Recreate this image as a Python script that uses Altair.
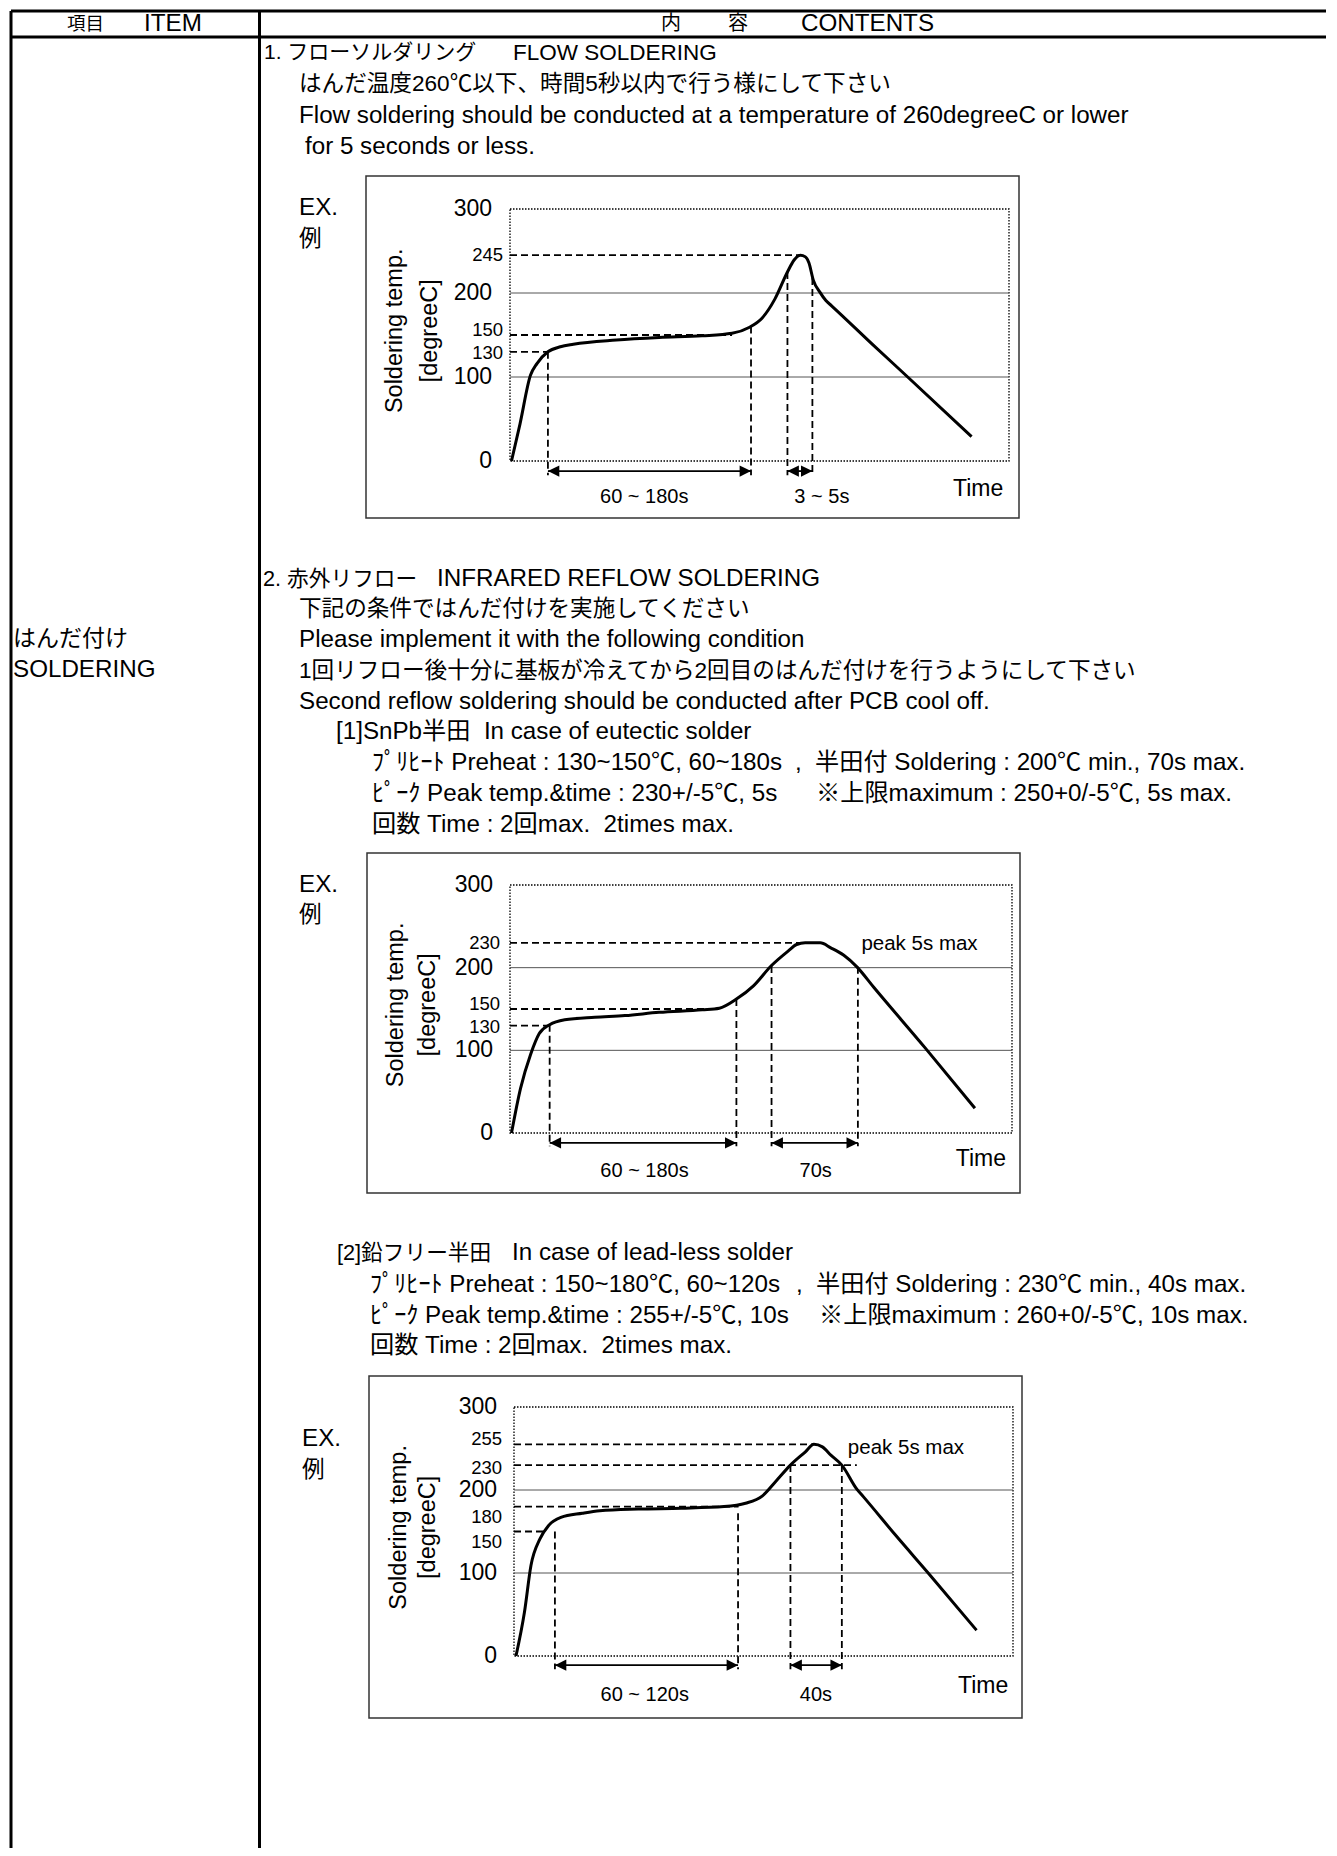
import altair as alt
import pandas as pd

FONT = "Liberation Sans, Noto Sans CJK JP"
W = 1321
LAT = 24.2   # latin-text size
JP = 22.6    # japanese-only line size

# ---------------- text content ----------------
HEADER_TEXT = ["項目", "ITEM", "内", "容", "CONTENTS"]
ITEM_TEXT = ["はんだ付け", "SOLDERING"]
EX_TEXT = ["EX.", "例"]
SEC1_TEXT = [
    "1. フローソルダリング",
    "FLOW SOLDERING",
    "はんだ温度260℃以下、時間5秒以内で行う様にして下さい",
    "Flow soldering should be conducted at a temperature of 260degreeC or lower",
    "for 5 seconds or less.",
]
SEC2_TEXT = [
    "2. 赤外リフロー",
    "INFRARED REFLOW SOLDERING",
    "下記の条件ではんだ付けを実施してください",
    "Please implement it with the following condition",
    "1回リフロー後十分に基板が冷えてから2回目のはんだ付けを行うようにして下さい",
    "Second reflow soldering should be conducted after PCB cool off.",
    "[1]SnPb半田\u00a0 In case of eutectic solder",
    "ﾌﾟﾘﾋｰﾄ Preheat : 130~150℃, 60~180s",
    ",",
    "半田付 Soldering : 200℃ min., 70s max.",
    "ﾋﾟｰｸ Peak temp.&time : 230+/-5℃, 5s",
    "※上限maximum : 250+0/-5℃, 5s max.",
    "回数 Time : 2回max.\u00a0 2times max.",
]
SEC3_TEXT = [
    "[2]鉛フリー半田",
    "In case of lead-less solder",
    "ﾌﾟﾘﾋｰﾄ Preheat : 150~180℃, 60~120s",
    ",",
    "半田付 Soldering : 230℃ min., 40s max.",
    "ﾋﾟｰｸ Peak temp.&time : 255+/-5℃, 10s",
    "※上限maximum : 260+0/-5℃, 10s max.",
    "回数 Time : 2回max.\u00a0 2times max.",
]

# ---------------- chart data ----------------
X_DOMAIN = [0, 100]          # time, % of the profile duration
Y_DOMAIN = [0, 300]          # degreeC
GRID_TEMPS = [100, 200]
BIG_TICKS = [0, 100, 200, 300]
Y_TITLE = ["Soldering temp.", "[degreeC]"]
X_TITLE = "Time"
PEAK_NOTE = "peak 5s max"

# 1. flow soldering
P1_TIME = [0.3, 2.0, 4.1, 5.4, 7.6, 10.1, 12.7, 21.3, 29.9, 38.5, 44.5, 47.9, 50.5,
           53.1, 55.6, 56.9, 58.2, 59.2, 59.9, 60.8, 62.1, 63.3, 64.5, 72.8, 79.7, 92.5]
P1_TEMP = [0, 44, 102, 116, 130, 136, 139, 144, 147, 149, 152, 159, 170,
           193, 225, 239, 245, 243, 236, 215, 201, 191, 184.5, 138, 100, 29]
P1_SMALL_TICKS = [245, 150, 130]
P1_H_TEMP = [245, 150, 130]
P1_H_END = [58.2, 44.5, 7.6]
P1_V_TIME = [7.6, 48.3, 55.6, 60.6]
P1_V_TOP = [130, 160, 225, 218]
P1_DIM_START = [7.6, 55.6]
P1_DIM_END = [48.3, 60.6]
P1_DIM_TEXT = ["60 ~ 180s", "3 ~ 5s"]
P1_DIM_TEXT_TIME = [26.9, 62.5]

# 2-[1] SnPb reflow
P2_TIME = [0.3, 2.1, 4.1, 5.8, 7.9, 10.9, 16.9, 22.9, 29.7, 38.3, 41.7, 45.1, 48.5,
           52.0, 55.4, 57.1, 58.8, 61.8, 63.9, 66.5, 69.1, 72.5, 82.7, 92.6]
P2_TEMP = [0, 54, 95, 120, 131, 137, 140, 142, 146, 149, 151, 162, 178,
           202, 220, 228, 230, 230, 224, 215, 201, 176, 103, 30]
P2_SMALL_TICKS = [230, 150, 130]
P2_H_TEMP = [230, 150, 130]
P2_H_END = [61.5, 41.5, 7.9]
P2_V_TIME = [7.9, 45.1, 52.1, 69.3]
P2_V_TOP = [131, 162, 202, 201]
P2_DIM_START = [7.9, 52.1]
P2_DIM_END = [45.1, 69.3]
P2_DIM_TEXT = ["60 ~ 180s", "70s"]
P2_DIM_TEXT_TIME = [26.8, 60.9]

# 2-[2] lead-less reflow
P3_TIME = [0.4, 2.1, 3.4, 5.2, 6.9, 9.4, 13.7, 17.2, 24.9, 33.5, 42.1, 46.4, 49.8,
           52.4, 55.4, 58.4, 60.1, 61.8, 63.5, 65.7, 68.7, 70.0, 76.4, 83.3, 92.7]
P3_TEMP = [0, 53, 109, 141, 157, 167, 172, 175, 177, 178, 180, 184, 193,
           210, 230, 246, 255, 252, 242, 230, 201, 192, 146, 98, 31]
P3_SMALL_TICKS = [255, 230, 180, 150]
P3_H_TEMP = [255, 230, 180, 150]
P3_H_END = [60.1, 68.7, 45.0, 6.0]
P3_V_TIME = [8.2, 44.9, 55.4, 65.7]
P3_V_TOP = [150, 172, 230, 230]
P3_DIM_START = [8.2, 55.4]
P3_DIM_END = [44.9, 65.7]
P3_DIM_TEXT = ["60 ~ 120s", "40s"]
P3_DIM_TEXT_TIME = [26.2, 60.5]

# ---------------- helpers ----------------
ONE = alt.Data(values=[{"k": 0}])
LEFT_HEAD = "M0,0L2,-1L2,1Z"
RIGHT_HEAD = "M0,0L-2,-1L-2,1Z"


def text_at(s, x, y, size, align="left"):
    return alt.Chart(ONE).mark_text(text=s, align=align, baseline="middle", font=FONT,
                                    fontSize=size, color="black").encode(x=alt.value(x), y=alt.value(y))


def hline(y, x1, x2, w=3):
    return alt.Chart(ONE).mark_rule(color="black", strokeWidth=w).encode(
        x=alt.value(x1), x2=alt.value(x2), y=alt.value(y))


def vline(x, y1, y2, w=3):
    return alt.Chart(ONE).mark_rule(color="black", strokeWidth=w).encode(
        x=alt.value(x), y=alt.value(y1), y2=alt.value(y2))


def box(x1, y1, x2, y2):
    return alt.Chart(ONE).mark_rect(fillOpacity=0, stroke="#333333", strokeWidth=1.5).encode(
        x=alt.value(x1), x2=alt.value(x2), y=alt.value(y1), y2=alt.value(y2))


def profile(ptime, ptemp, small_ticks, tick_dy, h_temp, h_end, v_time, v_top,
            dim_a, dim_b, dim_text, dim_text_t, xr, yr, big_x, small_x, title_x,
            dim_T, v_bottom, label_T, time_pos, peak_pos=None):
    xs = alt.Scale(domain=X_DOMAIN, range=xr, nice=False, zero=False)
    ys = alt.Scale(domain=Y_DOMAIN, range=yr, nice=False, zero=False)

    def X(f):
        return alt.X(f, type="quantitative", scale=xs, axis=None)

    def Y(f):
        return alt.Y(f, type="quantitative", scale=ys, axis=None)

    layers = []
    frame = pd.DataFrame({"a": [X_DOMAIN[0]], "b": [X_DOMAIN[1]],
                          "lo": [Y_DOMAIN[0]], "hi": [Y_DOMAIN[1]]})
    layers.append(alt.Chart(frame).mark_rect(fillOpacity=0, stroke="black", strokeWidth=1.3,
                                             strokeDash=[1.5, 1.5]).encode(
        x=X("a"), x2="b", y=Y("lo"), y2="hi"))
    grid = pd.DataFrame({"T": GRID_TEMPS, "a": X_DOMAIN[0], "b": X_DOMAIN[1]})
    layers.append(alt.Chart(grid).mark_rule(color="#555555", strokeWidth=1).encode(
        x=X("a"), x2="b", y=Y("T")))
    hd = pd.DataFrame({"T": h_temp, "a": X_DOMAIN[0], "b": h_end})
    layers.append(alt.Chart(hd).mark_rule(color="black", strokeWidth=1.8, strokeDash=[7, 4]).encode(
        x=X("a"), x2="b", y=Y("T")))
    vd = pd.DataFrame({"t": v_time, "top": v_top, "bot": v_bottom})
    layers.append(alt.Chart(vd).mark_rule(color="black", strokeWidth=1.8, strokeDash=[7, 4]).encode(
        x=X("t"), y=Y("top"), y2="bot"))
    cv = pd.DataFrame({"t": ptime, "T": ptemp})
    layers.append(alt.Chart(cv).mark_line(color="black", strokeWidth=3, interpolate="monotone").encode(
        x=X("t"), y=Y("T")))
    dm = pd.DataFrame({"a": dim_a, "b": dim_b, "T": dim_T})
    layers.append(alt.Chart(dm).mark_rule(color="black", strokeWidth=1.8).encode(
        x=X("a"), x2="b", y=Y("T")))
    layers.append(alt.Chart(dm).mark_point(shape=LEFT_HEAD, filled=True, size=130, color="black",
                                           opacity=1).encode(x=X("a"), y=Y("T")))
    layers.append(alt.Chart(dm).mark_point(shape=RIGHT_HEAD, filled=True, size=130, color="black",
                                           opacity=1).encode(x=X("b"), y=Y("T")))
    dl = pd.DataFrame({"t": dim_text_t, "T": label_T, "s": dim_text})
    layers.append(alt.Chart(dl).mark_text(font=FONT, fontSize=20, color="black",
                                          baseline="middle").encode(x=X("t"), y=Y("T"), text="s"))
    tl = pd.DataFrame({"t": [time_pos[0]], "T": [time_pos[1]], "s": [X_TITLE]})
    layers.append(alt.Chart(tl).mark_text(font=FONT, fontSize=23, color="black",
                                          baseline="middle").encode(x=X("t"), y=Y("T"), text="s"))
    if peak_pos is not None:
        pk = pd.DataFrame({"t": [peak_pos[0]], "T": [peak_pos[1]], "s": [PEAK_NOTE]})
        layers.append(alt.Chart(pk).mark_text(font=FONT, fontSize=20.5, color="black", align="left",
                                              baseline="middle").encode(x=X("t"), y=Y("T"), text="s"))
    bt = pd.DataFrame({"T": BIG_TICKS, "s": [str(v) for v in BIG_TICKS]})
    layers.append(alt.Chart(bt).mark_text(font=FONT, fontSize=23, color="black", align="right",
                                          baseline="middle").encode(x=alt.value(big_x), y=Y("T"), text="s"))
    for v, dy in zip(small_ticks, tick_dy):
        st = pd.DataFrame({"T": [v], "s": [str(v)]})
        layers.append(alt.Chart(st).mark_text(font=FONT, fontSize=18.5, color="black", align="right",
                                              baseline="middle", dy=dy).encode(
            x=alt.value(small_x), y=Y("T"), text="s"))
    for i, ttl in enumerate(Y_TITLE):
        td = pd.DataFrame({"T": [155], "s": [ttl]})
        layers.append(alt.Chart(td).mark_text(font=FONT, fontSize=23.5, color="black", angle=270,
                                              align="center", baseline="middle").encode(
            x=alt.value(title_x[i]), y=Y("T"), text="s"))
    return layers


# ---------------- section 1 ----------------
H1 = 540
s1 = [
    hline(3, 3, W - 3), hline(29, 3, W - 3),
    vline(3, 3, H1), vline(251.5, 3, H1),
    text_at(HEADER_TEXT[0], 59, 16, 18.5),
    text_at(HEADER_TEXT[1], 136, 16, LAT),
    text_at(HEADER_TEXT[2], 663, 16, 20, "center"),
    text_at(HEADER_TEXT[3], 730, 16, 20, "center"),
    text_at(HEADER_TEXT[4], 793, 16, LAT),
]
S1_POS = [(256, 45, 21), (505, 45, 22.5), (291, 76, JP), (291, 108, LAT), (297, 139, LAT)]
for s, (x, y, f) in zip(SEC1_TEXT, S1_POS):
    s1.append(text_at(s, x, y, f))
s1 += [text_at(EX_TEXT[0], 291, 200, LAT), text_at(EX_TEXT[1], 291, 231, JP),
       box(358, 168, 1011, 510)]
s1 += profile(P1_TIME, P1_TEMP, P1_SMALL_TICKS, [0, -5, 1], P1_H_TEMP, P1_H_END, P1_V_TIME, P1_V_TOP,
              P1_DIM_START, P1_DIM_END, P1_DIM_TEXT, P1_DIM_TEXT_TIME,
              xr=[502, 1001], yr=[453, 201], big_x=484, small_x=495, title_x=[387, 422],
              dim_T=-12, v_bottom=-17, label_T=-43, time_pos=(93.8, -33))
sec1 = alt.layer(*s1).properties(width=W, height=H1)

# ---------------- section 2 ----------------
H2 = 680
s2 = [vline(3, 0, H2), vline(251.5, 0, H2),
      text_at(ITEM_TEXT[0], 5, 91, 23), text_at(ITEM_TEXT[1], 5, 122, LAT)]
S2_POS = [(255, 31, 21.7), (429, 31, LAT), (291, 61, JP), (291, 92, LAT), (291, 123, JP),
          (291, 154, LAT), (328, 184, LAT), (364, 215, LAT), (787, 215, LAT), (807, 215, LAT),
          (364, 246, LAT), (808, 246, LAT), (364, 277, LAT)]
for s, (x, y, f) in zip(SEC2_TEXT, S2_POS):
    s2.append(text_at(s, x, y, f))
s2 += [text_at(EX_TEXT[0], 291, 337, LAT), text_at(EX_TEXT[1], 291, 367, JP),
       box(359, 305, 1012, 645)]
s2 += profile(P2_TIME, P2_TEMP, P2_SMALL_TICKS, [0, -5, 1.5], P2_H_TEMP, P2_H_END, P2_V_TIME, P2_V_TOP,
              P2_DIM_START, P2_DIM_END, P2_DIM_TEXT, P2_DIM_TEXT_TIME,
              xr=[502, 1004], yr=[585, 337], big_x=485, small_x=492, title_x=[388, 420],
              dim_T=-12, v_bottom=-16, label_T=-46, time_pos=(93.8, -32),
              peak_pos=(70.0, 229))
sec2 = alt.layer(*s2).properties(width=W, height=H2)

# ---------------- section 3 ----------------
H3 = 620
s3 = [vline(3, 0, H3), vline(251.5, 0, H3)]
S3_POS = [(329, 25, 21.7), (504, 25, LAT), (362, 57, LAT), (788, 57, LAT), (808, 57, LAT),
          (362, 88, LAT), (811, 88, LAT), (362, 118, LAT)]
for s, (x, y, f) in zip(SEC3_TEXT, S3_POS):
    s3.append(text_at(s, x, y, f))
s3 += [text_at(EX_TEXT[0], 294, 211, LAT), text_at(EX_TEXT[1], 294, 242, JP),
       box(361, 148, 1014, 490)]
s3 += profile(P3_TIME, P3_TEMP, P3_SMALL_TICKS, [-5, 3, 10, 10], P3_H_TEMP, P3_H_END, P3_V_TIME,
              P3_V_TOP, P3_DIM_START, P3_DIM_END, P3_DIM_TEXT, P3_DIM_TEXT_TIME,
              xr=[506, 1005], yr=[428, 179], big_x=489, small_x=494, title_x=[391, 420],
              dim_T=-11, v_bottom=-16, label_T=-47, time_pos=(94.0, -36),
              peak_pos=(66.9, 251))
sec3 = alt.layer(*s3).properties(width=W, height=H3)

chart = alt.vconcat(sec1, sec2, sec3, spacing=0, bounds="flush").properties(padding=0).configure_view(
    strokeWidth=0).configure_concat(spacing=0)

chart.save("out.html", embed_options={"renderer": "svg", "actions": False})
